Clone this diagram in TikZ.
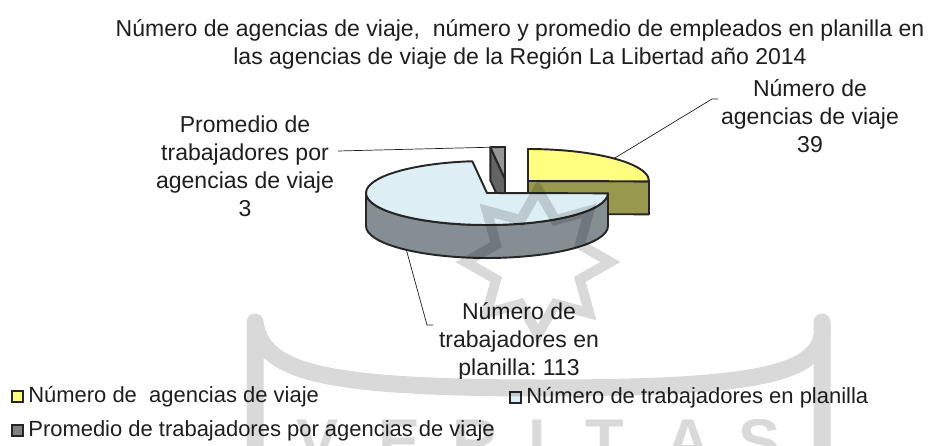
\documentclass[tikz,border=0pt]{standalone}
\usepackage{fontspec}
\setmainfont{Liberation Sans}
\usetikzlibrary{shapes.geometric}
\definecolor{amarillo}{RGB}{255,255,128}
\definecolor{oliva}{RGB}{153,153,77}
\definecolor{celeste}{RGB}{222,238,245}
\definecolor{celestelado}{RGB}{133,142,147}
\definecolor{gristapa}{RGB}{150,150,150}
\definecolor{grislado}{RGB}{100,100,100}
\definecolor{gris}{RGB}{128,128,128}
\definecolor{borde}{RGB}{38,38,38}
\definecolor{texto}{RGB}{30,30,30}
\tikzset{
  rebanada/.style={draw=borde, line width=1.1pt, line join=round},
  guia/.style={draw=texto, line width=0.4pt},
  etiqueta/.style={align=center, text=texto, inner sep=0pt, font=\fontsize{13.1}{15.9}\selectfont},
  leyenda/.style={anchor=west, text=texto, inner sep=0pt, font=\fontsize{12.5}{15}\selectfont},
  cuadro/.style={draw=borde, line width=0.9pt},
}
\begin{document}
\begin{tikzpicture}[x=0.02cm, y=-0.02cm]
%\draw[help lines, step=20] (0,0) grid (940,446);
\useasboundingbox (0,0) rectangle (940,446);

\node[etiqueta] (titulo) at (520,44) {Número de agencias de viaje,\ \ número y promedio de empleados en planilla en\\las agencias de viaje de la Región La Libertad año 2014};

% pastel
\coordinate (L) at (487,193);
\coordinate (Y) at (528,181);
\coordinate (G) at (505,179);

\filldraw[rebanada, fill=grislado] (G) -- ++(-96.97:121 and 32) -- ++(0,33) -- ++(14.68,31.76) -- cycle;
\filldraw[rebanada, fill=gristapa] (G) -- ++(-90:121 and 32) arc[start angle=-90, end angle=-96.97, x radius=121, y radius=32] -- cycle;

\filldraw[rebanada, fill=oliva] (Y) -- ++(0.58:121 and 32) -- ++(0,33) -- ++(-121,-0.32) -- cycle;
\filldraw[rebanada, fill=amarillo] (Y) -- ++(-90:121 and 32) arc[start angle=-90, end angle=0.58, x radius=121, y radius=32] -- cycle;

\filldraw[rebanada, fill=celestelado] (L) ++(0.58:121 and 32) arc[start angle=0.58, end angle=180, x radius=121, y radius=32] -- ++(0,33) arc[start angle=180, end angle=0.58, x radius=121, y radius=32] -- cycle;
\filldraw[rebanada, fill=celeste] (L) -- ++(0.58:121 and 32) arc[start angle=0.58, end angle=263.03, x radius=121, y radius=32] -- cycle;

% etiquetas
\node[etiqueta] (agencias) at (810,116) {Número de\\agencias de viaje\\39};
\node[etiqueta] (promedio) at (245,166) {Promedio de\\trabajadores por\\agencias de viaje\\3};
\begin{scope}
\clip (0,0) rectangle (940,378);
\node[etiqueta] (planilla) at (519,341) {Número de\\trabajadores en\\planilla:\ 113};
\end{scope}

\path (Y) ++(-44.7:121 and 32) coordinate (agpunta);
\coordinate (agcodo) at (712,99);
\coordinate (agfin) at (718,99);
\draw[guia] (agpunta) -- (agcodo) -- (agfin);

\path (G) ++(-96.97:121 and 32) coordinate (prpunta);
\coordinate (prfin) at (338,151);
\draw[guia] (prfin) -- (prpunta);

\path (L) ++(0,33) ++(131.8:121 and 32) coordinate (trpunta);
\coordinate (trcodo) at (427,325);
\coordinate (trfin) at (433,325);
\draw[guia] (trpunta) -- (trcodo) -- (trfin);

% leyenda
\filldraw[cuadro, fill=amarillo] (12,391) rectangle (23,402);
\node[leyenda] (leyA) at (28,397) {Número de\ \ agencias de viaje};
\filldraw[cuadro, fill=celeste] (510,392) rectangle (521,403);
\node[leyenda] (leyB) at (526,398) {Número de trabajadores en planilla};
\filldraw[cuadro, fill=gris] (12,425) rectangle (23,436);
\node[leyenda] (leyC) at (28,431) {Promedio de trabajadores por agencias de viaje};

% marca de agua
\begin{scope}[draw opacity=0.15, text opacity=0.15]
\clip (0,0) rectangle (940,446);
\node[star, star points=8, star point ratio=1.6, minimum size=2.9cm, draw=black, line width=0.2cm, inner sep=0pt] (estrella) at (538,262) {};
\draw[black, line width=0.34cm, line join=round] (255,446) -- (255,322) .. controls (262,372) and (320,388) .. (545,388) .. controls (770,388) and (828,372) .. (822,322) -- (822,446);
\foreach \letra/\x in {V/318,E/400,R/475,I/537,T/605,A/688,S/760}
  \node[anchor=base, text=black, font=\bfseries\fontsize{36}{36}\selectfont] (marca\letra) at (\x,463) {\letra};
\end{scope}
\end{tikzpicture}
\end{document}
